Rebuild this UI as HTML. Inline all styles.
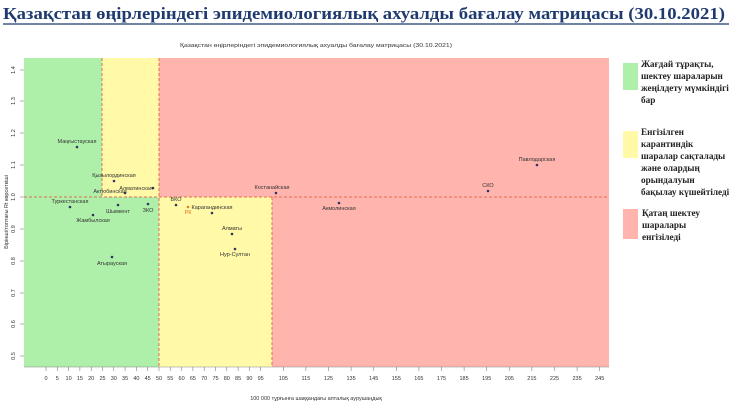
<!DOCTYPE html>
<html><head><meta charset="utf-8"><style>
html,body{margin:0;padding:0;background:#fff;width:734px;height:408px;overflow:hidden}
svg{display:block}
.s{font-family:"Liberation Sans",sans-serif;font-size:5.5px;fill:#333}
.lg{font-family:"Liberation Serif",serif;font-size:9.2px;font-weight:bold;fill:#222}
</style></head><body>
<svg width="734" height="408" viewBox="0 0 734 408" xmlns="http://www.w3.org/2000/svg">
<text x="3" y="19" font-family="Liberation Serif,serif" font-weight="bold" font-size="17" fill="#1f3a6e" textLength="722" lengthAdjust="spacingAndGlyphs">Қазақстан өңірлеріндегі эпидемиологиялық ахуалды бағалау матрицасы  (30.10.2021)</text>
<line x1="3" y1="24" x2="729" y2="24" stroke="#1f3a6e" stroke-width="1.2"/>
<text x="316" y="47" class="s" font-size="7" text-anchor="middle" fill="#222" textLength="272" lengthAdjust="spacingAndGlyphs">Қазақстан өңірлеріндегі эпидемиологиялық ахуалды бағалау матрицасы  (30.10.2021)</text>
<rect x="24" y="58" width="585" height="309" fill="#ffb4ae"/>
<rect x="24" y="58" width="78" height="139" fill="#aef0aa"/>
<rect x="102" y="58" width="57" height="139" fill="#fff9a8"/>
<rect x="24" y="197" width="135" height="170" fill="#aef0aa"/>
<rect x="159" y="197" width="113" height="170" fill="#fff9a8"/>
<g stroke="#e07050" stroke-width="1" stroke-dasharray="3,2" fill="none">
<line x1="102" y1="58" x2="102" y2="197"/>
<line x1="159" y1="58" x2="159" y2="367"/>
<line x1="272" y1="197" x2="272" y2="367"/>
<line x1="24" y1="197" x2="609" y2="197"/>
</g>
<line x1="24" y1="367" x2="609" y2="367" stroke="#888" stroke-width="0.6"/>
<g class="s" text-anchor="middle">
<g transform="translate(15,70) rotate(-90)"><text>1.4</text></g>
<g transform="translate(15,101) rotate(-90)"><text>1.3</text></g>
<g transform="translate(15,133) rotate(-90)"><text>1.2</text></g>
<g transform="translate(15,165) rotate(-90)"><text>1.1</text></g>
<g transform="translate(15,197) rotate(-90)"><text>1.0</text></g>
<g transform="translate(15,229) rotate(-90)"><text>0.9</text></g>
<g transform="translate(15,261) rotate(-90)"><text>0.8</text></g>
<g transform="translate(15,293) rotate(-90)"><text>0.7</text></g>
<g transform="translate(15,324) rotate(-90)"><text>0.6</text></g>
<g transform="translate(15,356) rotate(-90)"><text>0.5</text></g>
<g transform="translate(8,212) rotate(-90)"><text>Бірінші/топтағы Rt көрсеткіші</text></g>
</g>
<g stroke="#666" stroke-width="0.5">
<line x1="20" y1="70" x2="24" y2="70"/><line x1="20" y1="101" x2="24" y2="101"/><line x1="20" y1="133" x2="24" y2="133"/><line x1="20" y1="165" x2="24" y2="165"/><line x1="20" y1="197" x2="24" y2="197"/><line x1="20" y1="229" x2="24" y2="229"/><line x1="20" y1="261" x2="24" y2="261"/><line x1="20" y1="293" x2="24" y2="293"/><line x1="20" y1="324" x2="24" y2="324"/><line x1="20" y1="356" x2="24" y2="356"/>
</g>
<g id="xt" class="s" text-anchor="middle"></g>
<text x="316" y="400" class="s" text-anchor="middle">100 000 тұрғынға шаққандағы апталық аурушаңдық</text>
<g class="s" text-anchor="middle" fill="#444">
<circle cx="77" cy="147" r="1.3" fill="#336"/><text x="77" y="143">Маңғыстауская</text>
<circle cx="114" cy="181" r="1.3" fill="#336"/><text x="114" y="177">Қызылординская</text>
<text x="110" y="193">Актюбинская</text>
<circle cx="125" cy="193" r="1.3" fill="#336"/>
<circle cx="153" cy="188" r="1.3" fill="#336"/><text x="136" y="190">Алматинская</text>
<circle cx="70" cy="207" r="1.3" fill="#336"/><text x="70" y="203">Туркестанская</text>
<circle cx="118" cy="205" r="1.3" fill="#336"/><text x="118" y="213">Шымкент</text>
<circle cx="148" cy="204" r="1.3" fill="#336"/><text x="148" y="212">ЗКО</text>
<circle cx="93" cy="215" r="1.3" fill="#336"/><text x="93" y="222">Жамбылская</text>
<circle cx="112" cy="257" r="1.3" fill="#336"/><text x="112" y="265">Атырауская</text>
<circle cx="176" cy="205" r="1.3" fill="#336"/><text x="176" y="201">ВКО</text>
<circle cx="188" cy="207" r="1.3" fill="#e08020"/><text x="188" y="214" fill="#e07020">РК</text>
<circle cx="212" cy="213" r="1.3" fill="#336"/><text x="212" y="209">Карагандинская</text>
<circle cx="232" cy="234" r="1.3" fill="#336"/><text x="232" y="230">Алматы</text>
<circle cx="235" cy="249" r="1.3" fill="#336"/><text x="235" y="256">Нур-Султан</text>
<circle cx="276" cy="193" r="1.3" fill="#336"/><text x="272" y="189">Костанайская</text>
<circle cx="339" cy="203" r="1.3" fill="#336"/><text x="339" y="210">Акмолинская</text>
<circle cx="537" cy="165" r="1.3" fill="#336"/><text x="537" y="161">Павлодарская</text>
<circle cx="488" cy="191" r="1.3" fill="#336"/><text x="488" y="187">СКО</text>
</g>
<rect x="623" y="63" width="15" height="27" fill="#aef0aa"/>
<text class="lg"><tspan x="641" y="67">Жағдай тұрақты,</tspan><tspan x="641" y="79">шектеу шараларын</tspan><tspan x="641" y="91">жеңілдету мүмкіндігі</tspan><tspan x="641" y="103">бар</tspan></text>
<rect x="623" y="131" width="15" height="27" fill="#fff9a8"/>
<text class="lg"><tspan x="641" y="135">Енгізілген</tspan><tspan x="641" y="147">карантиндік</tspan><tspan x="641" y="159">шаралар сақталады</tspan><tspan x="641" y="171">және олардың</tspan><tspan x="641" y="183">орындалуын</tspan><tspan x="641" y="195">бақылау күшейтіледі</tspan></text>
<rect x="623" y="209" width="15" height="30" fill="#ffb4ae"/>
<text class="lg"><tspan x="642" y="216">Қатаң шектеу</tspan><tspan x="642" y="228">шаралары</tspan><tspan x="642" y="240">енгізіледі</tspan></text>
</svg>
<script>
var g=document.getElementById('xt'),ns='http://www.w3.org/2000/svg',vals=[];
for(var v=0;v<=95;v+=5)vals.push(v);for(var v=105;v<=245;v+=10)vals.push(v);
vals.forEach(function(v){var x=46+v*2.26;var l=document.createElementNS(ns,'line');l.setAttribute('x1',x);l.setAttribute('x2',x);l.setAttribute('y1',367);l.setAttribute('y2',371);l.setAttribute('stroke','#666');l.setAttribute('stroke-width','0.5');g.appendChild(l);
var t=document.createElementNS(ns,'text');t.setAttribute('x',x);t.setAttribute('y',380);t.textContent=v;g.appendChild(t);});
</script>
</body></html>
